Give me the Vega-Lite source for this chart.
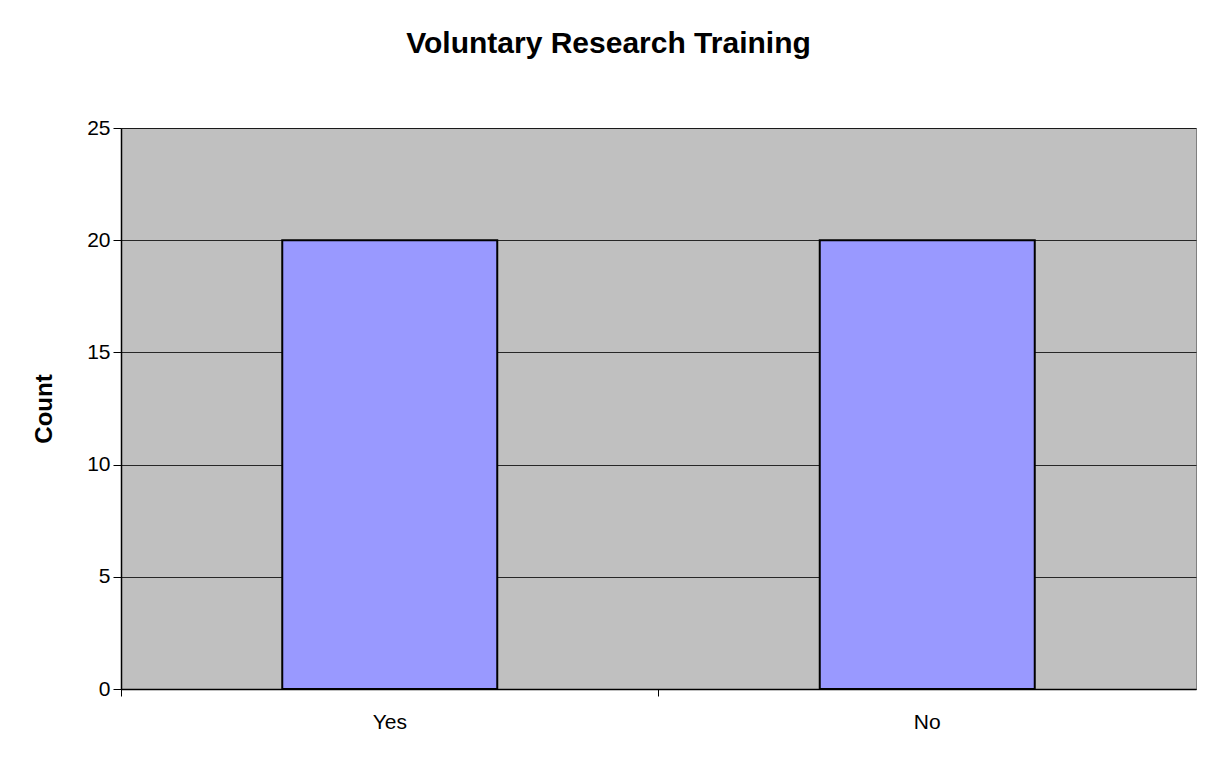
{
  "$schema": "https://vega.github.io/schema/vega-lite/v6.json",
  "autosize": "none",
  "width": 1075,
  "height": 561,
  "padding": {"left": 121, "top": 128, "right": 21, "bottom": 78},
  "background": "white",
  "title": {
    "text": "Voluntary Research Training",
    "font": "Liberation Sans",
    "fontSize": 30,
    "fontWeight": "bold",
    "color": "black",
    "anchor": "middle",
    "baseline": "alphabetic",
    "dx": -50,
    "offset": 34
  },
  "config": {
    "view": {"fill": "#C0C0C0", "stroke": "#808080", "strokeWidth": 1},
    "axis": {
      "labelFont": "Liberation Sans",
      "titleFont": "Liberation Sans",
      "labelColor": "black",
      "titleColor": "black"
    }
  },
  "data": {
    "values": [
      {"answer": "Yes", "count": 20},
      {"answer": "No", "count": 20}
    ]
  },
  "resolve": {"axis": {"x": "independent"}},
  "layer": [
    {
      "mark": {"type": "bar", "fill": "#9999FF", "stroke": "black", "strokeWidth": 2, "width": {"band": 0.4}},
      "encoding": {
        "x": {
          "field": "answer",
          "type": "nominal",
          "sort": ["Yes", "No"],
          "scale": {"paddingInner": 0, "paddingOuter": 0},
          "axis": {
            "orient": "bottom",
            "title": null,
            "labels": false,
            "ticks": true,
            "bandPosition": 0,
            "tickColor": "black",
            "tickSize": 7,
            "tickWidth": 1,
            "domain": true,
            "domainColor": "black",
            "domainWidth": 1.5,
            "grid": false
          }
        },
        "y": {
          "field": "count",
          "type": "quantitative",
          "scale": {"domain": [0, 25], "nice": false},
          "axis": {
            "title": "Count",
            "titleFontSize": 24,
            "titleFontWeight": "bold",
            "titlePadding": 30,
            "values": [0, 5, 10, 15, 20, 25],
            "labelFontSize": 21,
            "labelPadding": 3,
            "tickColor": "black",
            "tickSize": 8,
            "domainColor": "black",
            "domainWidth": 1.5,
            "grid": true,
            "gridColor": "black",
            "gridOpacity": 0.8,
            "gridWidth": 1
          }
        }
      }
    },
    {
      "mark": {"type": "bar", "opacity": 0},
      "encoding": {
        "x": {
          "field": "answer",
          "type": "nominal",
          "sort": ["Yes", "No"],
          "axis": {
            "orient": "bottom",
            "title": null,
            "labels": true,
            "ticks": false,
            "domain": false,
            "grid": false,
            "labelFontSize": 21,
            "labelAngle": 0,
            "labelBaseline": "top",
            "labelPadding": 22
          }
        },
        "y": {"field": "count", "type": "quantitative", "scale": {"domain": [0, 25], "nice": false}}
      }
    }
  ]
}
